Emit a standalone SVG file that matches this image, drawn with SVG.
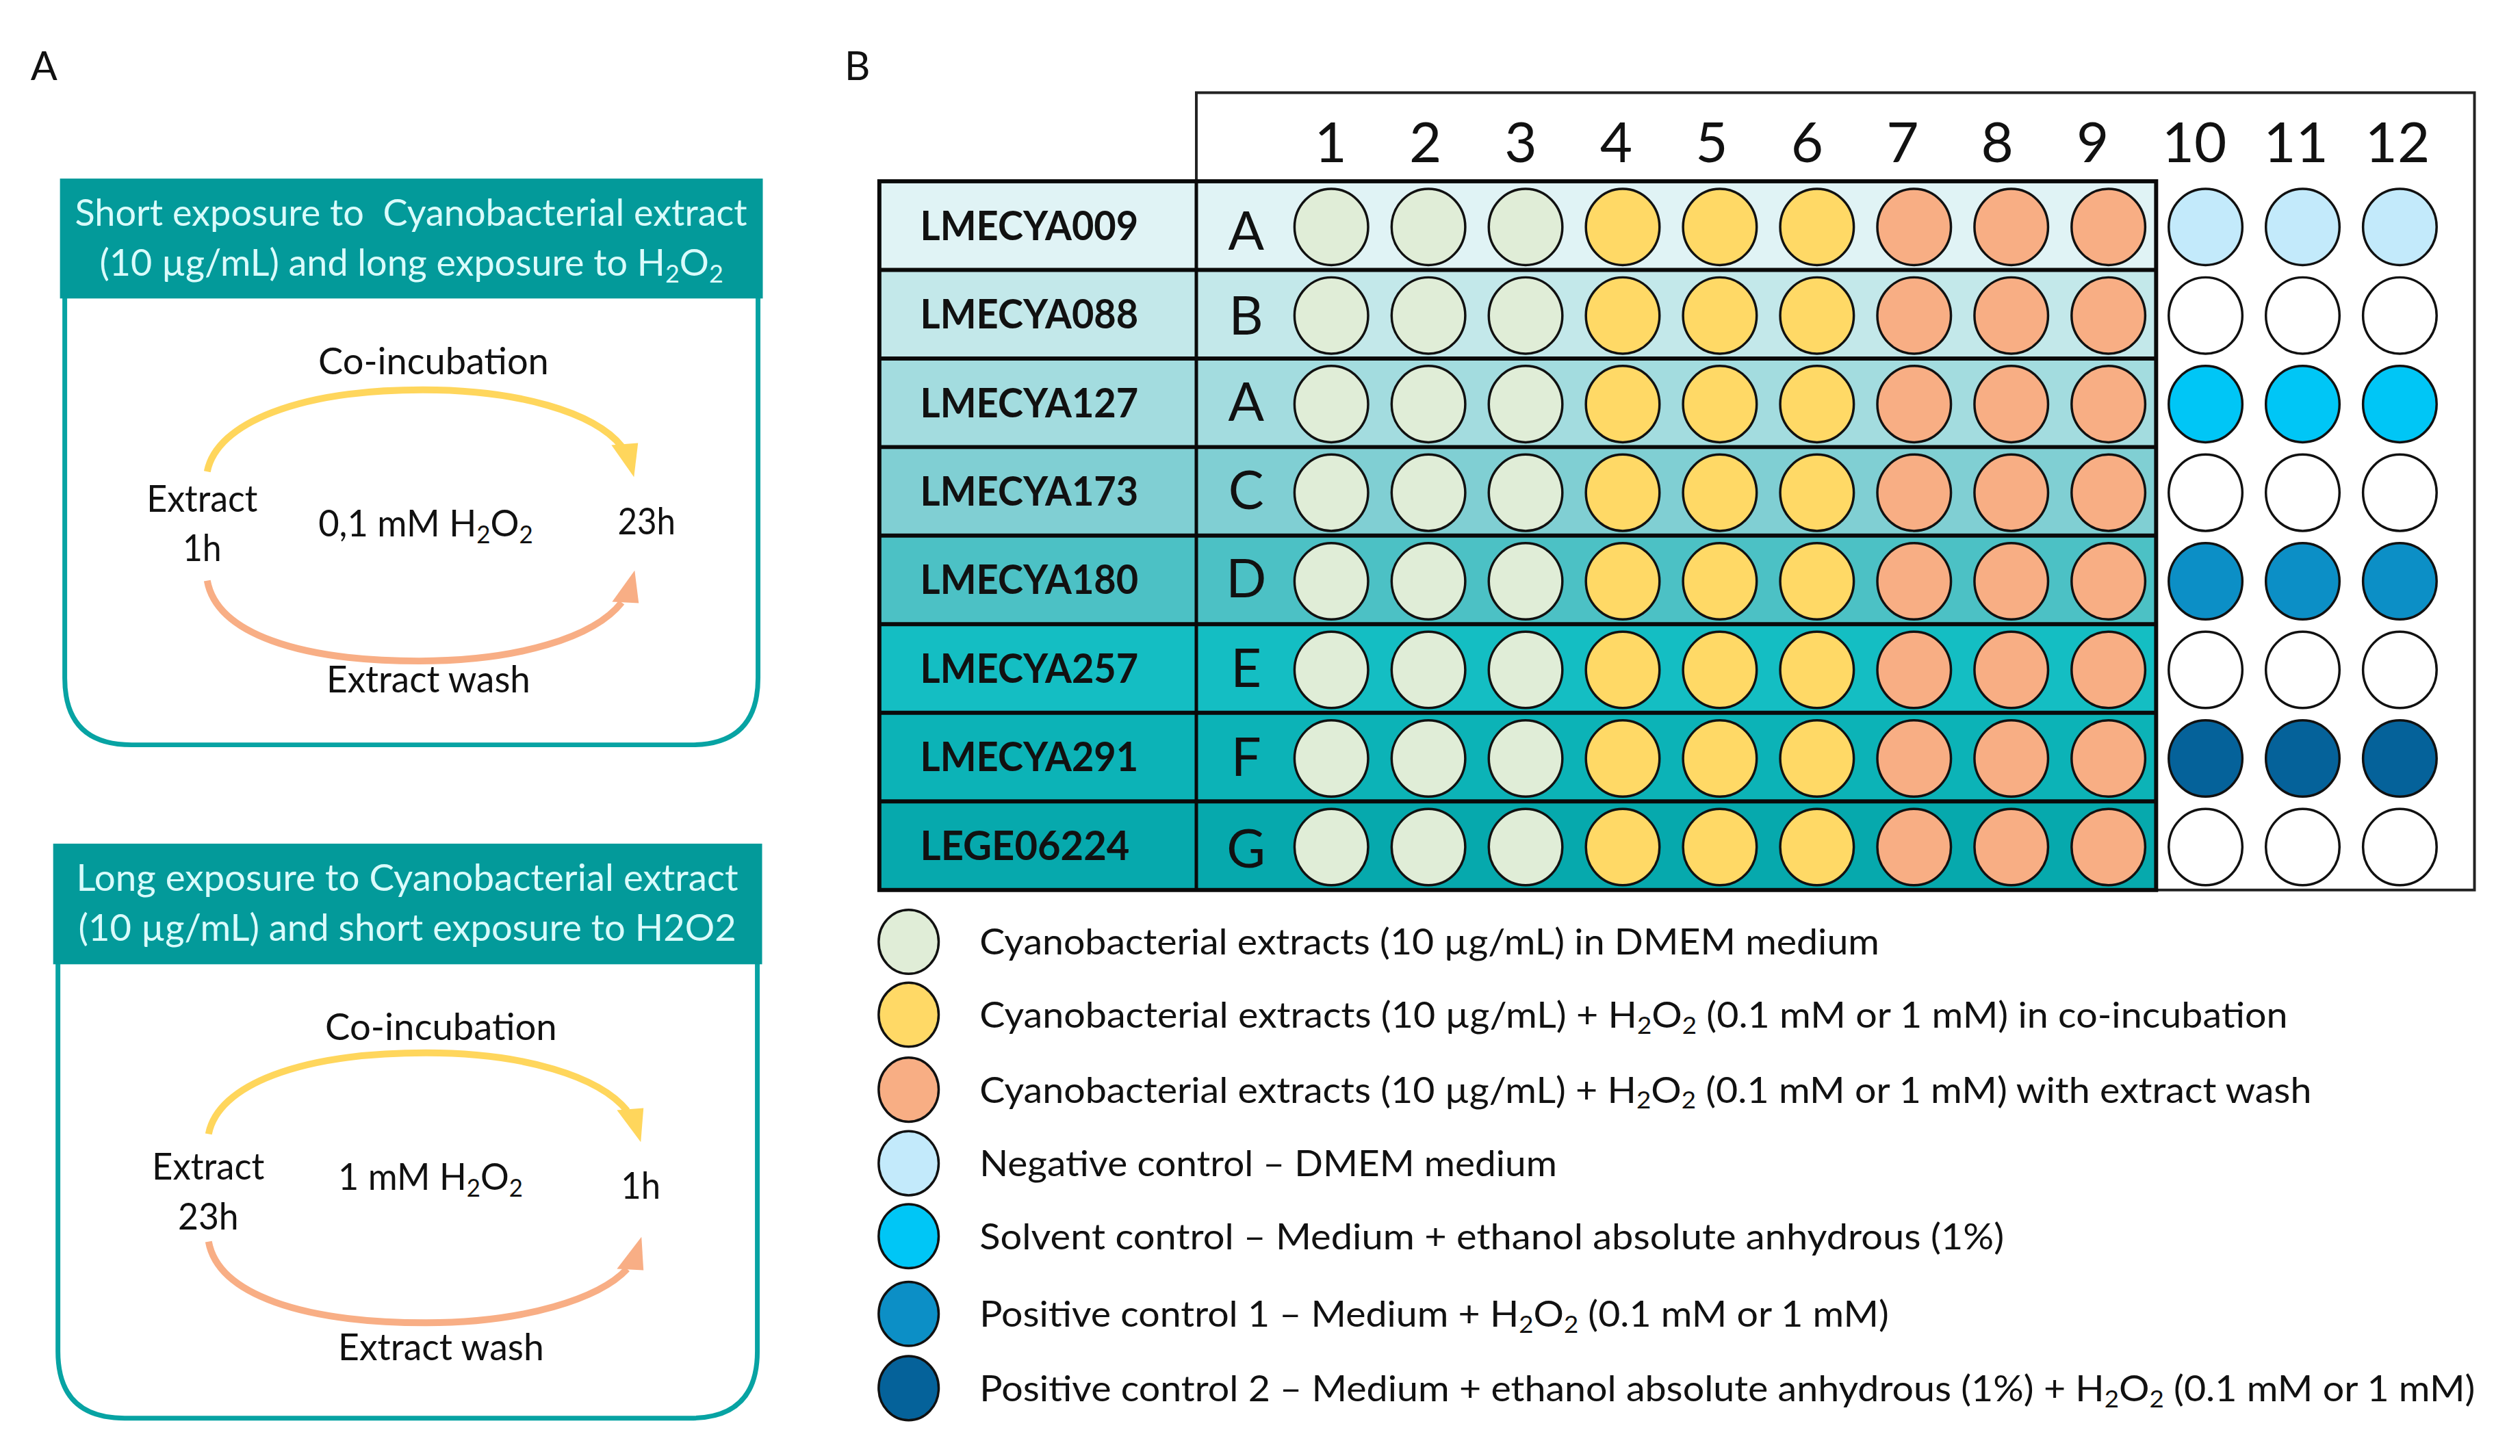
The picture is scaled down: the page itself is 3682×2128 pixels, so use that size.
<svg xmlns="http://www.w3.org/2000/svg" width="3682" height="2128" viewBox="0 0 3682 2128">
<style>
text{font-family:Lato,"Open Sans","Liberation Sans",sans-serif;fill:#111;}
.lbl{font-size:58px;}
.hdr{font-size:54px;fill:#d9fbfb;}
.txt{font-size:54px;}
.col{font-size:82px;text-anchor:middle;}
.row{font-size:78px;text-anchor:middle;}
.strain{font-size:60px;font-weight:bold;}
.leg{font-size:53px;}
.hb{fill:#039a9a;}
.frame{fill:none;stroke:#07a3a3;stroke-width:7;}
.ya{fill:none;stroke:#ffd65c;stroke-width:10;}
.oa{fill:none;stroke:#f8ae85;stroke-width:10;}
.yh{fill:#ffd65c;}
.oh{fill:#f8ae85;}
.w{stroke:#111;stroke-width:3.5;}
.g{fill:#e0edd7;}
.y{fill:#ffd966;}
.o{fill:#f8ae84;}
.lb{fill:#c3eafb;}
.cy{fill:#00c6f6;}
.mb{fill:#0c8fc6;}
.db{fill:#05629a;}
.wh{fill:#ffffff;}
</style>
<rect width="3682" height="2128" fill="#ffffff"/>
<g transform="scale(0.996)">
<text class="lbl" x="45" y="117">A</text>
<text class="lbl" x="1239" y="117">B</text>

<g id="boxA1">
<path class="frame" d="M95,437 V995 Q95,1093 193,1093 H1014 Q1112,1093 1112,995 V437"/>
<rect class="hb" x="88" y="262" width="1031" height="176"/>
<text class="hdr" x="110" y="331" textLength="986" lengthAdjust="spacingAndGlyphs">Short exposure to &#160;Cyanobacterial extract</text>
<text class="hdr" x="146" y="405" textLength="915" lengthAdjust="spacingAndGlyphs">(10 µg/mL) and long exposure to H<tspan font-size="36" dy="10">2</tspan><tspan dy="-10">O</tspan><tspan font-size="36" dy="10">2</tspan></text>
<text class="txt" x="467" y="549" textLength="338" lengthAdjust="spacingAndGlyphs">Co-incubation</text>
<text class="txt" x="215" y="751" textLength="163" lengthAdjust="spacingAndGlyphs">Extract</text>
<text class="txt" x="268" y="823" textLength="57" lengthAdjust="spacingAndGlyphs">1h</text>
<text class="txt" x="467" y="787" textLength="315" lengthAdjust="spacingAndGlyphs">0,1 mM H<tspan font-size="36" dy="10">2</tspan><tspan dy="-10">O</tspan><tspan font-size="36" dy="10">2</tspan></text>
<text class="txt" x="906" y="784" textLength="85" lengthAdjust="spacingAndGlyphs">23h</text>
<text class="txt" x="479" y="1016" textLength="299" lengthAdjust="spacingAndGlyphs">Extract wash</text>
</g>

<g id="boxA2">
<path class="frame" d="M85,1414 V1983 Q85,2081 183,2081 H1013 Q1111,2081 1111,1983 V1414"/>
<rect class="hb" x="78" y="1238" width="1040" height="177"/>
<text class="hdr" x="112" y="1307" textLength="971" lengthAdjust="spacingAndGlyphs">Long exposure to Cyanobacterial extract</text>
<text class="hdr" x="115" y="1381" textLength="965" lengthAdjust="spacingAndGlyphs">(10 µg/mL) and short exposure to H2O2</text>
<text class="txt" x="477" y="1526" textLength="340" lengthAdjust="spacingAndGlyphs">Co-incubation</text>
<text class="txt" x="223" y="1731" textLength="165" lengthAdjust="spacingAndGlyphs">Extract</text>
<text class="txt" x="261" y="1804" textLength="89" lengthAdjust="spacingAndGlyphs">23h</text>
<text class="txt" x="496" y="1746" textLength="271" lengthAdjust="spacingAndGlyphs">1 mM H<tspan font-size="36" dy="10">2</tspan><tspan dy="-10">O</tspan><tspan font-size="36" dy="10">2</tspan></text>
<text class="txt" x="911" y="1759" textLength="58" lengthAdjust="spacingAndGlyphs">1h</text>
<text class="txt" x="496" y="1996" textLength="302" lengthAdjust="spacingAndGlyphs">Extract wash</text>
</g>

<g id="connectors">
<path class="ya" d="M304,692 C318,620 440,572 620,572 C760,572 872,605 912,655"/>
<polygon class="yh" points="897,653 936,650 930,700"/>
<path class="oa" d="M304,852 C318,930 440,970 615,970 C760,970 872,935 912,884"/>
<polygon class="oh" points="898,883 937,885 931,837"/>
<path class="ya" d="M306,1664 C320,1592 440,1545 625,1545 C770,1545 880,1580 920,1630"/>
<polygon class="yh" points="905,1629 944,1626 940,1676"/>
<path class="oa" d="M306,1822 C320,1900 445,1941 625,1941 C770,1941 880,1905 920,1862"/>
<polygon class="oh" points="905,1862 944,1864 941,1815"/>
</g>

<g id="plate">
<rect x="1755" y="136" width="1875" height="1170" fill="#ffffff" stroke="#222" stroke-width="4"/>
<rect x="1290" y="266" width="1873" height="130" fill="#e0f3f5"/>
<rect x="1290" y="396" width="1873" height="130" fill="#c3e8ea"/>
<rect x="1290" y="526" width="1873" height="130" fill="#a3dcdf"/>
<rect x="1290" y="656" width="1873" height="130" fill="#80cfd3"/>
<rect x="1290" y="786" width="1873" height="130" fill="#4cc1c5"/>
<rect x="1290" y="916" width="1873" height="130" fill="#14bec3"/>
<rect x="1290" y="1046" width="1873" height="130" fill="#0cb3b7"/>
<rect x="1290" y="1176" width="1873" height="130" fill="#06a9ad"/>
<g fill="none" stroke="#0a0a0a" stroke-width="6">
<rect x="1290" y="266" width="1873" height="1040"/>
<path d="M1290,396 H3163 M1290,526 H3163 M1290,656 H3163 M1290,786 H3163 M1290,916 H3163 M1290,1046 H3163 M1290,1176 H3163"/>
<path d="M1755,266 V1306" stroke-width="5"/>
</g>
<g id="colnums">
<text class="col" x="1952" y="238">1</text>
<text class="col" x="2091" y="238">2</text>
<text class="col" x="2231" y="238">3</text>
<text class="col" x="2371" y="238">4</text>
<text class="col" x="2511" y="238">5</text>
<text class="col" x="2651" y="238">6</text>
<text class="col" x="2791" y="238">7</text>
<text class="col" x="2930" y="238">8</text>
<text class="col" x="3070" y="238">9</text>
<text class="col" x="3219" y="238">10</text>
<text class="col" x="3368" y="238">11</text>
<text class="col" x="3517" y="238">12</text>
</g>
<g id="rowlabels">
<text class="strain" x="1350" y="352" textLength="320" lengthAdjust="spacingAndGlyphs">LMECYA009</text>
<text class="strain" x="1350" y="482" textLength="320" lengthAdjust="spacingAndGlyphs">LMECYA088</text>
<text class="strain" x="1350" y="612" textLength="320" lengthAdjust="spacingAndGlyphs">LMECYA127</text>
<text class="strain" x="1350" y="742" textLength="320" lengthAdjust="spacingAndGlyphs">LMECYA173</text>
<text class="strain" x="1350" y="872" textLength="320" lengthAdjust="spacingAndGlyphs">LMECYA180</text>
<text class="strain" x="1350" y="1002" textLength="320" lengthAdjust="spacingAndGlyphs">LMECYA257</text>
<text class="strain" x="1350" y="1132" textLength="320" lengthAdjust="spacingAndGlyphs">LMECYA291</text>
<text class="strain" x="1350" y="1262" textLength="307" lengthAdjust="spacingAndGlyphs">LEGE06224</text>
<text class="row" x="1828" y="366">A</text>
<text class="row" x="1828" y="491">B</text>
<text class="row" x="1828" y="617">A</text>
<text class="row" x="1828" y="747">C</text>
<text class="row" x="1828" y="877">D</text>
<text class="row" x="1828" y="1008">E</text>
<text class="row" x="1828" y="1139">F</text>
<text class="row" x="1828" y="1273">G</text>
</g>
<defs>
<g id="wr">
<ellipse class="w g" cx="1953" cy="0" rx="54" ry="56"/>
<ellipse class="w g" cx="2095.5" cy="0" rx="54" ry="56"/>
<ellipse class="w g" cx="2238" cy="0" rx="54" ry="56"/>
<ellipse class="w y" cx="2380.5" cy="0" rx="54" ry="56"/>
<ellipse class="w y" cx="2523" cy="0" rx="54" ry="56"/>
<ellipse class="w y" cx="2665.5" cy="0" rx="54" ry="56"/>
<ellipse class="w o" cx="2808" cy="0" rx="54" ry="56"/>
<ellipse class="w o" cx="2950.5" cy="0" rx="54" ry="56"/>
<ellipse class="w o" cx="3093" cy="0" rx="54" ry="56"/>
</g>
</defs>
<g id="wells">
<use href="#wr" y="333"/>
<use href="#wr" y="463"/>
<use href="#wr" y="593"/>
<use href="#wr" y="723"/>
<use href="#wr" y="853"/>
<use href="#wr" y="983"/>
<use href="#wr" y="1113"/>
<use href="#wr" y="1243"/>
<ellipse class="w lb" cx="3235.5" cy="333" rx="54" ry="56"/><ellipse class="w lb" cx="3378" cy="333" rx="54" ry="56"/><ellipse class="w lb" cx="3520.5" cy="333" rx="54" ry="56"/>
<ellipse class="w wh" cx="3235.5" cy="463" rx="54" ry="56"/><ellipse class="w wh" cx="3378" cy="463" rx="54" ry="56"/><ellipse class="w wh" cx="3520.5" cy="463" rx="54" ry="56"/>
<ellipse class="w cy" cx="3235.5" cy="593" rx="54" ry="56"/><ellipse class="w cy" cx="3378" cy="593" rx="54" ry="56"/><ellipse class="w cy" cx="3520.5" cy="593" rx="54" ry="56"/>
<ellipse class="w wh" cx="3235.5" cy="723" rx="54" ry="56"/><ellipse class="w wh" cx="3378" cy="723" rx="54" ry="56"/><ellipse class="w wh" cx="3520.5" cy="723" rx="54" ry="56"/>
<ellipse class="w mb" cx="3235.5" cy="853" rx="54" ry="56"/><ellipse class="w mb" cx="3378" cy="853" rx="54" ry="56"/><ellipse class="w mb" cx="3520.5" cy="853" rx="54" ry="56"/>
<ellipse class="w wh" cx="3235.5" cy="983" rx="54" ry="56"/><ellipse class="w wh" cx="3378" cy="983" rx="54" ry="56"/><ellipse class="w wh" cx="3520.5" cy="983" rx="54" ry="56"/>
<ellipse class="w db" cx="3235.5" cy="1113" rx="54" ry="56"/><ellipse class="w db" cx="3378" cy="1113" rx="54" ry="56"/><ellipse class="w db" cx="3520.5" cy="1113" rx="54" ry="56"/>
<ellipse class="w wh" cx="3235.5" cy="1243" rx="54" ry="56"/><ellipse class="w wh" cx="3378" cy="1243" rx="54" ry="56"/><ellipse class="w wh" cx="3520.5" cy="1243" rx="54" ry="56"/>
</g>
</g>

<g id="legend">
<ellipse class="w g" cx="1333" cy="1382" rx="44" ry="47"/>
<text class="leg" x="1437" y="1401" textLength="1320" lengthAdjust="spacingAndGlyphs">Cyanobacterial extracts (10 µg/mL) in DMEM medium</text>
<ellipse class="w y" cx="1333" cy="1489" rx="44" ry="47"/>
<text class="leg" x="1437" y="1508" textLength="1919" lengthAdjust="spacingAndGlyphs">Cyanobacterial extracts (10 µg/mL) + H<tspan font-size="35" dy="9">2</tspan><tspan dy="-9">O</tspan><tspan font-size="35" dy="9">2</tspan><tspan dy="-9"> (0.1 mM or 1 mM) in co-incubation</tspan></text>
<ellipse class="w o" cx="1333" cy="1599" rx="44" ry="47"/>
<text class="leg" x="1437" y="1618" textLength="1954" lengthAdjust="spacingAndGlyphs">Cyanobacterial extracts (10 µg/mL) + H<tspan font-size="35" dy="9">2</tspan><tspan dy="-9">O</tspan><tspan font-size="35" dy="9">2</tspan><tspan dy="-9"> (0.1 mM or 1 mM) with extract wash</tspan></text>
<ellipse class="w lb" cx="1333" cy="1707" rx="44" ry="47"/>
<text class="leg" x="1437" y="1726" textLength="847" lengthAdjust="spacingAndGlyphs">Negative control – DMEM medium</text>
<ellipse class="w cy" cx="1333" cy="1814" rx="44" ry="47"/>
<text class="leg" x="1437" y="1833" textLength="1503" lengthAdjust="spacingAndGlyphs">Solvent control – Medium + ethanol absolute anhydrous (1%)</text>
<ellipse class="w mb" cx="1333" cy="1928" rx="44" ry="47"/>
<text class="leg" x="1437" y="1947" textLength="1334" lengthAdjust="spacingAndGlyphs">Positive control 1 – Medium + H<tspan font-size="35" dy="9">2</tspan><tspan dy="-9">O</tspan><tspan font-size="35" dy="9">2</tspan><tspan dy="-9"> (0.1 mM or 1 mM)</tspan></text>
<ellipse class="w db" cx="1333" cy="2037" rx="44" ry="47"/>
<text class="leg" x="1437" y="2056" textLength="2194" lengthAdjust="spacingAndGlyphs">Positive control 2 – Medium + ethanol absolute anhydrous (1%) + H<tspan font-size="35" dy="9">2</tspan><tspan dy="-9">O</tspan><tspan font-size="35" dy="9">2</tspan><tspan dy="-9"> (0.1 mM or 1 mM)</tspan></text>
</g>
</g>
</svg>
